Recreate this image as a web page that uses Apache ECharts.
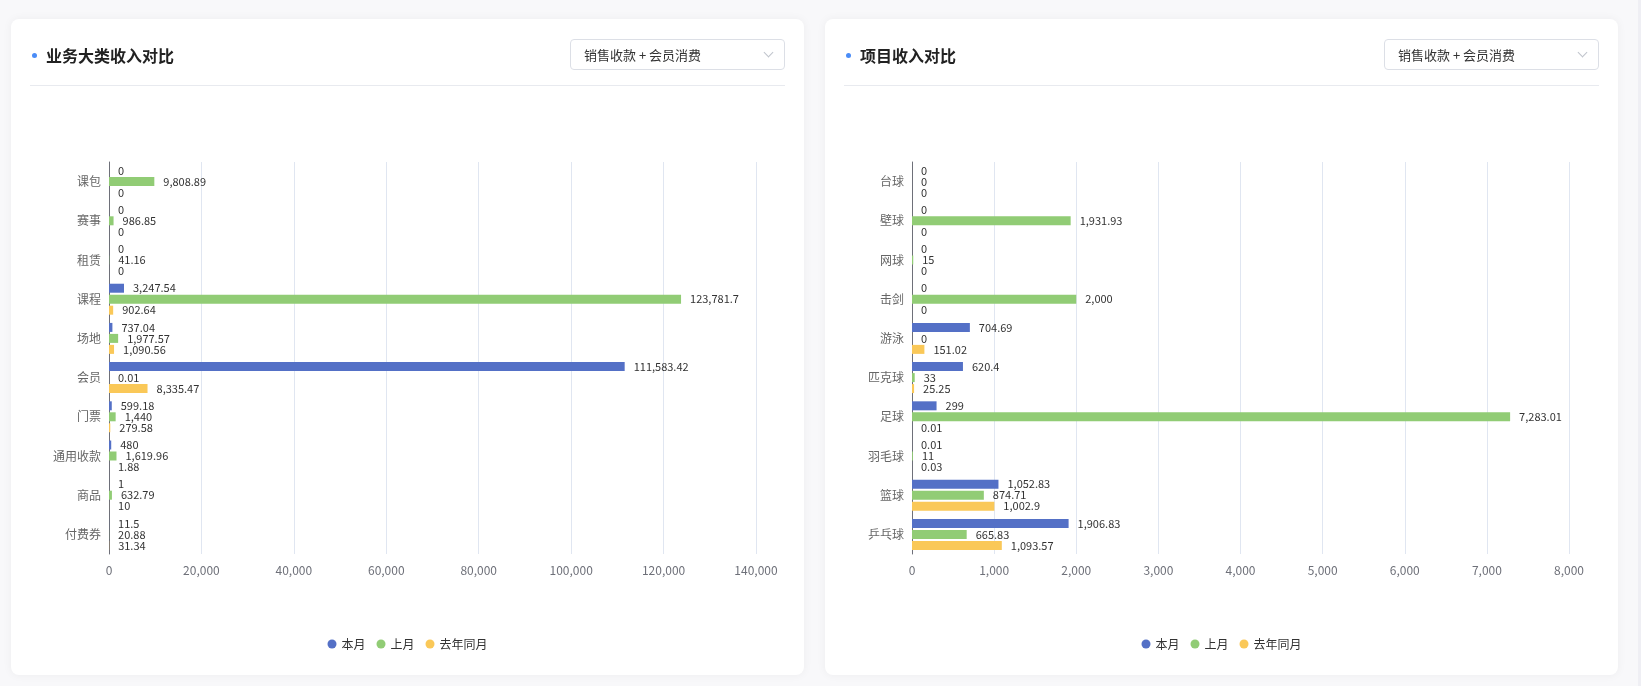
<!DOCTYPE html>
<html>
<head>
<meta charset="utf-8">
<script src="https://cdn.jsdelivr.net/npm/echarts@6/dist/echarts.min.js"></script>
<style>
  html, body { margin: 0; padding: 0; }
  body {
    width: 1641px; height: 686px; position: relative; overflow: hidden;
    background: #f8f8fa;
    font-family: "Noto Sans CJK SC", "Noto Sans", sans-serif;
  }
  .card {
    position: absolute; top: 19px; width: 793px; height: 656px;
    background: #fff; border-radius: 8px;
    box-shadow: 0 0 10px rgba(0, 0, 0, 0.05);
  }
  .chart { position: absolute; left: 0; top: 0; width: 793px; height: 656px; }
  .title {
    position: absolute; left: 35px; top: 25px; z-index: 2;
    font-size: 16px; font-weight: bold; color: #222; line-height: 22px;
  }
  .dot {
    position: absolute; left: 21px; top: 34px; z-index: 2;
    width: 5px; height: 5px; border-radius: 50%; background: #4a8cf7;
  }
  .select {
    position: absolute; right: 19px; top: 20px; z-index: 2;
    width: 213px; height: 29px; border: 1px solid #dcdfe6; border-radius: 4px;
    font-size: 13px; color: #333; line-height: 29px; box-sizing: content-box;
  }
  .select span { position: absolute; left: 13px; }
  .select i {
    position: absolute; right: 12px; top: 9px; width: 6px; height: 6px;
    border-right: 1px solid #c0c4cc; border-bottom: 1px solid #c0c4cc;
    transform: rotate(45deg);
  }
  .divider {
    position: absolute; left: 19px; right: 19px; top: 66px; height: 1px;
    background: #e8eaef; z-index: 2;
  }
  .scroll {
    position: absolute; left: 1638px; top: 0; width: 3px; height: 686px;
    background: #efeff4;
  }
</style>
</head>
<body>
<div class="card" style="left: 11px;">
  <div class="chart" id="chartA"></div>
  <div class="dot"></div>
  <div class="title">业务大类收入对比</div>
  <div class="select"><span>销售收款 + 会员消费</span><i></i></div>
  <div class="divider"></div>
</div>
<div class="card" style="left: 825px;">
  <div class="chart" id="chartB"></div>
  <div class="dot"></div>
  <div class="title">项目收入对比</div>
  <div class="select"><span>销售收款 + 会员消费</span><i></i></div>
  <div class="divider"></div>
</div>
<div class="scroll"></div>
<script>
// 业务大类 (top to bottom)
const bizCats = ['课包', '赛事', '租赁', '课程', '场地', '会员', '门票', '通用收款', '商品', '付费券'];
const bizThis = [0, 0, 0, 3247.54, 737.04, 111583.42, 599.18, 480, 1, 11.5];
const bizLast = [9808.89, 986.85, 41.16, 123781.7, 1977.57, 0.01, 1440, 1619.96, 632.79, 20.88];
const bizYoY = [0, 0, 0, 902.64, 1090.56, 8335.47, 279.58, 1.88, 10, 31.34];

// 项目 (top to bottom)
const itemCats = ['台球', '壁球', '网球', '击剑', '游泳', '匹克球', '足球', '羽毛球', '篮球', '乒乓球'];
const itemThis = [0, 0, 0, 0, 704.69, 620.4, 299, 0.01, 1052.83, 1906.83];
const itemLast = [0, 1931.93, 15, 2000, 0, 33, 7283.01, 11, 874.71, 665.83];
const itemYoY = [0, 0, 0, 0, 151.02, 25.25, 0.01, 0.03, 1002.9, 1093.57];

const seriesNames = ['本月', '上月', '去年同月'];
const colors = ['#5470c6', '#91cc75', '#fac858'];

function fmt(v) {
  const parts = String(v).split('.');
  parts[0] = parts[0].replace(/\B(?=(\d{3})+(?!\d))/g, ',');
  return parts.join('.');
}

function buildOption(cats, data, max, interval, gridLeft, gridRight) {
  return {
    animation: false,
    color: colors,
    textStyle: { fontFamily: '"Noto Sans CJK SC", "Noto Sans", sans-serif' },
    grid: { left: gridLeft, right: gridRight, top: 143, bottom: 121 },
    legend: {
      top: 614,
      left: 'center',
      icon: 'circle',
      itemWidth: 9,
      itemHeight: 9,
      itemGap: 11,
      textStyle: { fontSize: 12, color: '#333' },
      data: seriesNames
    },
    xAxis: {
      type: 'value',
      min: 0,
      max: max,
      interval: interval,
      axisLabel: { color: '#6e7079', fontSize: 12, margin: 10, formatter: (v) => fmt(v) },
      splitLine: { lineStyle: { color: '#e0e6f1' } }
    },
    yAxis: {
      type: 'category',
      inverse: true,
      data: cats,
      axisLine: { lineStyle: { color: '#6e7079' } },
      axisTick: { length: 5 },
      axisLabel: { color: '#666', fontSize: 12, margin: 8 }
    },
    series: data.map((d, i) => ({
      name: seriesNames[i],
      type: 'bar',
      barWidth: 9,
      barGap: '22%',
      data: d,
      label: {
        show: true,
        position: 'right',
        distance: 9,
        fontSize: 11,
        color: '#333',
        formatter: (p) => fmt(p.value)
      }
    }))
  };
}

const chartA = echarts.init(document.getElementById('chartA'));
chartA.setOption(buildOption(bizCats, [bizThis, bizLast, bizYoY], 140000, 20000, 98, 48));

const chartB = echarts.init(document.getElementById('chartB'));
chartB.setOption(buildOption(itemCats, [itemThis, itemLast, itemYoY], 8000, 1000, 87, 49));
</script>
</body>
</html>
